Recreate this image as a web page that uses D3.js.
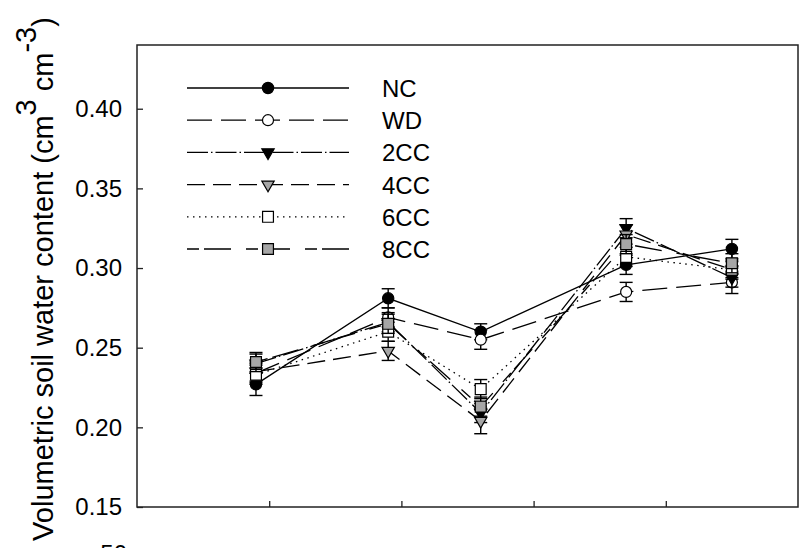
<!DOCTYPE html>
<html>
<head>
<meta charset="utf-8">
<script src="https://cdn.jsdelivr.net/npm/d3@7"></script>
<style>
  body { margin: 0; background: #fff; }
  svg { display: block; font-family: Arial, "Liberation Sans", sans-serif; }
</style>
</head>
<body>
<svg id="chart" width="803" height="548"></svg>
<script>
// sampling positions (in x tick units) and x tick positions
var samplePos = [0.9, 1.9, 2.6, 3.7, 4.5];
var xTicks = [1, 2, 3, 4];
var yTicks = [0.15, 0.20, 0.25, 0.30, 0.35, 0.40];

var seriesNames = ['NC', 'WD', '2CC', '4CC', '6CC', '8CC'];

// volumetric soil water content, mean and standard error
var ncVals  = [0.227, 0.281, 0.260, 0.302, 0.312];
var ncErr   = [0.007, 0.006, 0.005, 0.006, 0.006];
var wdVals  = [0.234, 0.269, 0.255, 0.285, 0.291];
var wdErr   = [0.006, 0.006, 0.006, 0.006, 0.007];
var cc2Vals = [0.240, 0.266, 0.209, 0.325, 0.294];
var cc2Err  = [0.006, 0.006, 0.006, 0.006, 0.006];
var cc4Vals = [0.235, 0.248, 0.204, 0.321, 0.299];
var cc4Err  = [0.006, 0.006, 0.008, 0.006, 0.006];
var cc6Vals = [0.233, 0.260, 0.224, 0.307, 0.299];
var cc6Err  = [0.006, 0.006, 0.006, 0.006, 0.005];
var cc8Vals = [0.241, 0.265, 0.213, 0.315, 0.303];
var cc8Err  = [0.006, 0.006, 0.006, 0.006, 0.006];

var valueSets = [ncVals, wdVals, cc2Vals, cc4Vals, cc6Vals, cc8Vals];
var errSets = [ncErr, wdErr, cc2Err, cc4Err, cc6Err, cc8Err];

// look of each series: dash pattern, symbol, fill
var styles = [
  { dash: null,          symbol: d3.symbolCircle,   size: 100, fill: '#000', flip: false },
  { dash: '25,9',        symbol: d3.symbolCircle,   size: 95,  fill: '#fff', flip: false },
  { dash: '21,3,1.5,3',  symbol: d3.symbolTriangle, size: 66,  fill: '#000', flip: true },
  { dash: '18,8',        symbol: d3.symbolTriangle, size: 66,  fill: '#a6a6a6', flip: true },
  { dash: '1.5,4.5',     symbol: d3.symbolSquare,   size: 118, fill: '#fff', flip: false },
  { dash: '12,5,27,15',  symbol: d3.symbolSquare,   size: 118, fill: '#a6a6a6', flip: false }
];

var series = seriesNames.map(function(name, i) {
  return {
    name: name,
    style: styles[i],
    points: samplePos.map(function(x, j) {
      return { x: x, y: valueSets[i][j], e: errSets[i][j] };
    })
  };
});

var svg = d3.select('#chart');
var plotLeft = 137, plotRight = 798, plotTop = 45, plotBottom = 507;

var x = d3.scaleLinear().domain([0, 5]).range([plotLeft, plotRight]);
var y = d3.scaleLinear().domain([0.15, 0.44]).range([plotBottom, plotTop]);

// axes, ticks point inward
svg.append('g')
  .attr('transform', 'translate(' + plotLeft + ',0)')
  .call(d3.axisLeft(y).tickValues(yTicks).tickSize(-6).tickPadding(15).tickFormat(d3.format('.2f')))
  .call(function(g) {
    g.select('.domain').remove();
    g.selectAll('line').attr('stroke', '#222').attr('stroke-width', 1.3);
    g.selectAll('text').attr('font-size', 24).attr('fill', '#000')
      .attr('font-family', 'Arial, "Liberation Sans", sans-serif');
  });

svg.append('g')
  .attr('transform', 'translate(0,' + plotBottom + ')')
  .call(d3.axisBottom(x).tickValues(xTicks).tickSize(-6).tickFormat(''))
  .call(function(g) {
    g.select('.domain').remove();
    g.selectAll('line').attr('stroke', '#222').attr('stroke-width', 1.3);
  });

svg.append('rect')
  .attr('x', plotLeft).attr('y', plotTop)
  .attr('width', plotRight - plotLeft).attr('height', plotBottom - plotTop)
  .attr('fill', 'none').attr('stroke', '#222').attr('stroke-width', 1.5);

// y axis title with superscripts
var title = svg.append('text')
  .attr('transform', 'translate(53,279) rotate(-90)')
  .attr('text-anchor', 'middle')
  .attr('font-size', 29)
  .attr('fill', '#000');
title.append('tspan').text('Volumetric soil water content (cm');
title.append('tspan').attr('dy', -17).text('3');
title.append('tspan').attr('dy', 17).text(' cm');
title.append('tspan').attr('dy', -17).text('-3');
title.append('tspan').attr('dy', 17).text(')');

// label of the panel below, cut by the page edge
svg.append('text')
  .attr('x', 127).attr('y', 562)
  .attr('text-anchor', 'end')
  .attr('font-size', 24)
  .text('50');

var line = d3.line().x(function(d) { return x(d.x); }).y(function(d) { return y(d.y); });

function symbolPath(st) {
  return d3.symbol().type(st.symbol).size(st.size)();
}

// lines first
svg.append('g').selectAll('path')
  .data(series)
  .join('path')
  .attr('d', function(s) { return line(s.points); })
  .attr('fill', 'none')
  .attr('stroke', '#000')
  .attr('stroke-width', 1.3)
  .attr('stroke-dasharray', function(s) { return s.style.dash; });

// error bars and symbols, series by series
series.forEach(function(s) {
  var g = svg.append('g');
  var eb = g.selectAll('g.eb').data(s.points).join('g').attr('class', 'eb');
  eb.append('line')
    .attr('x1', function(d) { return x(d.x); })
    .attr('x2', function(d) { return x(d.x); })
    .attr('y1', function(d) { return y(d.y - d.e); })
    .attr('y2', function(d) { return y(d.y + d.e); })
    .attr('stroke', '#000').attr('stroke-width', 1.4);
  [-1, 1].forEach(function(sign) {
    eb.append('line')
      .attr('x1', function(d) { return x(d.x) - 6.5; })
      .attr('x2', function(d) { return x(d.x) + 6.5; })
      .attr('y1', function(d) { return y(d.y + sign * d.e); })
      .attr('y2', function(d) { return y(d.y + sign * d.e); })
      .attr('stroke', '#000').attr('stroke-width', 1.4);
  });
  g.selectAll('path.sym').data(s.points).join('path')
    .attr('class', 'sym')
    .attr('d', symbolPath(s.style))
    .attr('transform', function(d) {
      return 'translate(' + x(d.x) + ',' + y(d.y) + ')' + (s.style.flip ? ' rotate(180)' : '');
    })
    .attr('fill', s.style.fill)
    .attr('stroke', '#000')
    .attr('stroke-width', 1.2);
});

// legend
var legend = svg.append('g');
var rowY = d3.scaleLinear().domain([0, 5]).range([88, 249]);
series.forEach(function(s, i) {
  var yy = rowY(i);
  legend.append('line')
    .attr('x1', 187).attr('x2', 349).attr('y1', yy).attr('y2', yy)
    .attr('stroke', '#000').attr('stroke-width', 1.3)
    .attr('stroke-dasharray', s.style.dash);
  legend.append('path')
    .attr('d', symbolPath(s.style))
    .attr('transform', 'translate(268,' + yy + ')' + (s.style.flip ? ' rotate(180)' : ''))
    .attr('fill', s.style.fill)
    .attr('stroke', '#000')
    .attr('stroke-width', 1.2);
  legend.append('text')
    .attr('x', 382).attr('y', yy + 9)
    .attr('font-size', 24)
    .attr('fill', '#000')
    .text(s.name);
});
</script>
</body>
</html>
